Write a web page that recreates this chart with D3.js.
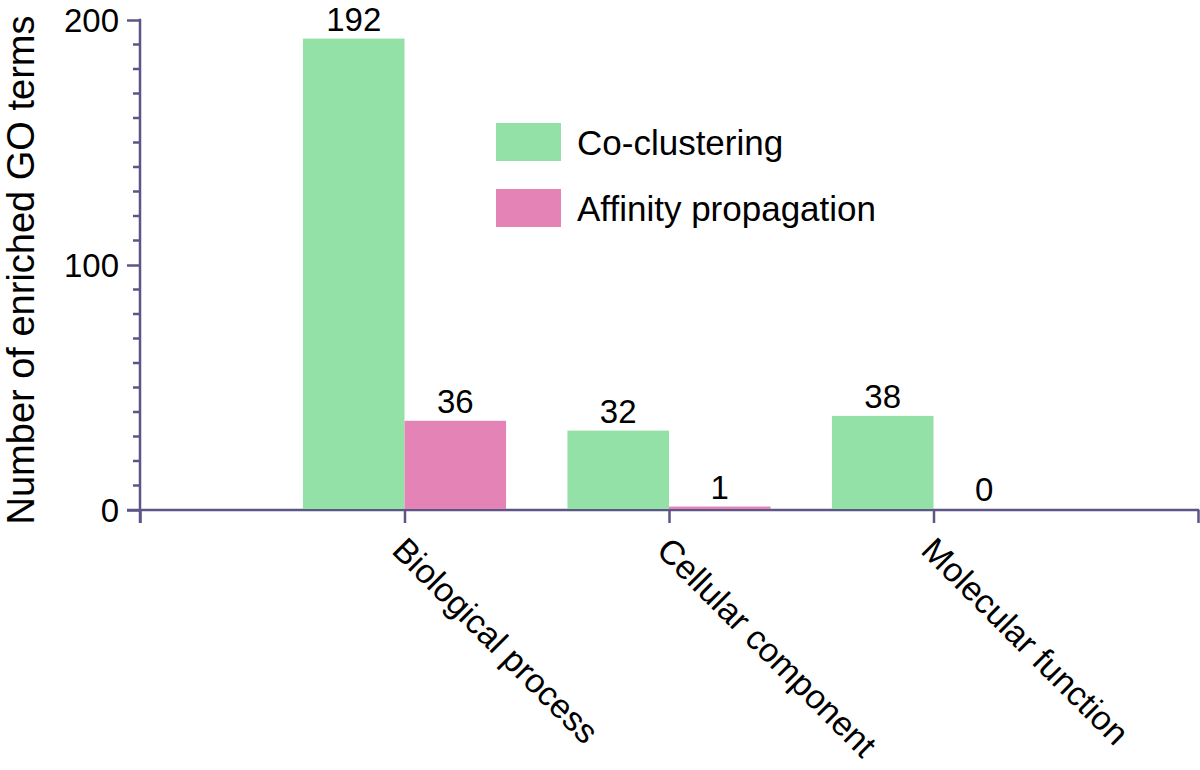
<!DOCTYPE html>
<html>
<head>
<meta charset="utf-8">
<script src="https://cdn.jsdelivr.net/npm/d3@7"></script>
<style>
    body { margin: 0; background: #fff; }
    svg text { font-family: "Liberation Sans", Arial, Helvetica, sans-serif; fill: #000; }
</style>
</head>
<body>
<div id="chart"></div>
<script>

var categories = ["Biological process", "Cellular component", "Molecular function"];
var seriesNames = ["Co-clustering", "Affinity propagation"];
var coClustering = [192, 32, 38];
var affinityPropagation = [36, 1, 0];
var yTicks = [0, 100, 200];

var colors = ["#93e1a6", "#e383b6"];
var axisColor = "#5c5686";

var width = 1200, height = 770;

var svg = d3.select("#chart")
    .append("svg")
    .attr("width", width)
    .attr("height", height);

// x: slots 0..4, categories sit on 1,2,3
var xScale = d3.scaleLinear()
    .domain([0, categories.length + 1])
    .range([140, 1198]);

var yScale = d3.scaleLinear()
    .domain([0, 200])
    .range([510, 20]);

var barW = 0.384; // in slot units

var series = [coClustering, affinityPropagation];

/* y axis */
var yAxis = svg.append("g")
    .attr("transform", "translate(140,0)")
    .call(d3.axisLeft(yScale)
        .tickValues(yTicks)
        .tickSize(13)
        .tickPadding(8)
        .tickFormat(d3.format("d")));

// minor ticks
svg.append("g")
    .selectAll("line")
    .data(d3.range(0, 201, 10).filter(function (d) { return yTicks.indexOf(d) < 0; }))
    .enter()
    .append("line")
    .attr("x1", 133)
    .attr("x2", 140)
    .attr("y1", function (d) { return yScale(d); })
    .attr("y2", function (d) { return yScale(d); })
    .attr("stroke", axisColor)
    .attr("stroke-width", 2.5);

yAxis.select(".domain").remove();
yAxis.append("line")
    .attr("x1", 0).attr("x2", 0)
    .attr("y1", yScale(200) - 1.25)
    .attr("y2", yScale(0) + 13);
yAxis.selectAll("line")
    .attr("stroke", axisColor)
    .attr("stroke-width", 2.5);
yAxis.selectAll(".tick text")
    .style("font-size", "33px")
    .attr("dy", "0.36em")
    .attr("fill", "#000");

/* x axis */
var xAxis = svg.append("g")
    .attr("transform", "translate(0," + yScale(0) + ")")
    .call(d3.axisBottom(xScale)
        .tickValues(d3.range(0, categories.length + 2))
        .tickSize(13)
        .tickFormat(""));

xAxis.select(".domain").remove();
xAxis.append("line")
    .attr("x1", 127)
    .attr("x2", xScale(categories.length + 1) + 1.25)
    .attr("y1", 0).attr("y2", 0);
xAxis.selectAll("line")
    .attr("stroke", axisColor)
    .attr("stroke-width", 2.5);

// bars (drawn over the baseline, as in the original)
series.forEach(function (vals, s) {
    svg.selectAll(".bar-" + s)
        .data(vals)
        .enter()
        .append("rect")
        .attr("class", "bar-" + s)
        .attr("x", function (d, i) { return s === 0 ? xScale(i + 1 - barW) : xScale(i + 1); })
        .attr("width", function () { return xScale(barW) - xScale(0); })
        .attr("y", function (d) { return yScale(d) - 1; })
        .attr("height", function (d) { return d > 0 ? yScale(0) - yScale(d) : 0; })
        .attr("fill", colors[s]);

    svg.selectAll(".val-" + s)
        .data(vals)
        .enter()
        .append("text")
        .attr("class", "val-" + s)
        .attr("x", function (d, i) { return s === 0 ? xScale(i + 1 - barW / 2) : xScale(i + 1 + barW / 2); })
        .attr("y", function (d) { return yScale(d) - 9; })
        .attr("text-anchor", "middle")
        .style("font-size", "33px")
        .text(function (d) { return d; });
});

// category labels, rotated
svg.selectAll(".cat")
    .data(categories)
    .enter()
    .append("text")
    .attr("class", "cat")
    .attr("transform", function (d, i) {
        return "translate(" + (xScale(i + 1) - 14) + ",552) rotate(45)";
    })
    .attr("text-anchor", "start")
    .style("font-size", "34px")
    .text(function (d) { return d; });

// y title
svg.append("text")
    .attr("transform", "translate(34,270) rotate(-90)")
    .attr("text-anchor", "middle")
    .style("font-size", "38px")
    .text("Number of enriched GO terms");

/* legend */
var legend = svg.selectAll(".legend")
    .data(seriesNames)
    .enter()
    .append("g")
    .attr("class", "legend")
    .attr("transform", function (d, i) { return "translate(496," + (123 + i * 66) + ")"; });

legend.append("rect")
    .attr("width", 65)
    .attr("height", 38)
    .attr("fill", function (d, i) { return colors[i]; });

legend.append("text")
    .attr("x", 81)
    .attr("y", 32)
    .style("font-size", "35px")
    .text(function (d) { return d; });

</script>
</body>
</html>
